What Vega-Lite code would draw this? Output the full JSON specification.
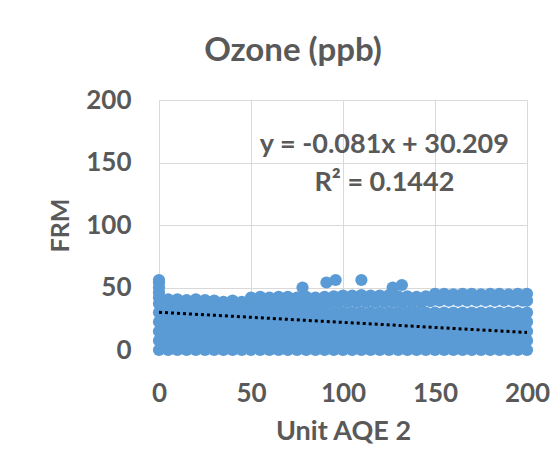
{
  "$schema": "https://vega.github.io/schema/vega-lite/v6.json",
  "width": 368,
  "height": 250,
  "autosize": {"type": "none"},
  "padding": {"left": 159, "top": 100, "right": 31, "bottom": 123},
  "background": "white",
  "title": {"text": "Ozone (ppb)", "font": "Lato", "fontSize": 33, "fontWeight": "bold", "color": "#595959", "anchor": "middle", "dx": -50, "offset": 19},
  "config": {
    "view": {"stroke": null},
    "axis": {
      "labelFont": "Lato", "labelFontWeight": "bold", "labelColor": "#595959",
      "titleFont": "Lato", "titleFontWeight": "bold", "titleColor": "#595959",
      "gridColor": "#d9d9d9", "gridWidth": 1, "domain": false, "ticks": false, "tickSize": 0, "labelFlush": false
    }
  },
  "datasets": {
    "points": [
      {"aqe2":0,"frm":0},{"aqe2":5,"frm":0},{"aqe2":10,"frm":0},{"aqe2":15,"frm":0},{"aqe2":20,"frm":0},{"aqe2":25,"frm":0},{"aqe2":30,"frm":0},{"aqe2":35,"frm":0},{"aqe2":40,"frm":0},{"aqe2":45,"frm":0},{"aqe2":50,"frm":0},{"aqe2":55,"frm":0},{"aqe2":60,"frm":0},{"aqe2":65,"frm":0},{"aqe2":70,"frm":0},{"aqe2":75,"frm":0},{"aqe2":80,"frm":0},{"aqe2":85,"frm":0},{"aqe2":90,"frm":0},{"aqe2":95,"frm":0},{"aqe2":100,"frm":0},{"aqe2":105,"frm":0},{"aqe2":110,"frm":0},{"aqe2":115,"frm":0},{"aqe2":120,"frm":0},{"aqe2":125,"frm":0},{"aqe2":130,"frm":0},{"aqe2":135,"frm":0},{"aqe2":140,"frm":0},{"aqe2":145,"frm":0},{"aqe2":150,"frm":0},{"aqe2":155,"frm":0},{"aqe2":160,"frm":0},{"aqe2":165,"frm":0},{"aqe2":170,"frm":0},{"aqe2":175,"frm":0},{"aqe2":180,"frm":0},{"aqe2":185,"frm":0},{"aqe2":190,"frm":0},{"aqe2":195,"frm":0},{"aqe2":200,"frm":0},
      {"aqe2":0,"frm":7.5},{"aqe2":2.5,"frm":7.5},{"aqe2":7.5,"frm":7.5},{"aqe2":12.5,"frm":7.5},{"aqe2":17.5,"frm":7.5},{"aqe2":22.5,"frm":7.5},{"aqe2":27.5,"frm":7.5},{"aqe2":32.5,"frm":7.5},{"aqe2":37.5,"frm":7.5},{"aqe2":42.5,"frm":7.5},{"aqe2":47.5,"frm":7.5},{"aqe2":52.5,"frm":7.5},{"aqe2":57.5,"frm":7.5},{"aqe2":62.5,"frm":7.5},{"aqe2":67.5,"frm":7.5},{"aqe2":72.5,"frm":7.5},{"aqe2":77.5,"frm":7.5},{"aqe2":82.5,"frm":7.5},{"aqe2":87.5,"frm":7.5},{"aqe2":92.5,"frm":7.5},{"aqe2":97.5,"frm":7.5},{"aqe2":102.5,"frm":7.5},{"aqe2":107.5,"frm":7.5},{"aqe2":112.5,"frm":7.5},{"aqe2":117.5,"frm":7.5},{"aqe2":122.5,"frm":7.5},{"aqe2":127.5,"frm":7.5},{"aqe2":132.5,"frm":7.5},{"aqe2":137.5,"frm":7.5},{"aqe2":142.5,"frm":7.5},{"aqe2":147.5,"frm":7.5},{"aqe2":152.5,"frm":7.5},{"aqe2":157.5,"frm":7.5},{"aqe2":162.5,"frm":7.5},{"aqe2":167.5,"frm":7.5},{"aqe2":172.5,"frm":7.5},{"aqe2":177.5,"frm":7.5},{"aqe2":182.5,"frm":7.5},{"aqe2":187.5,"frm":7.5},{"aqe2":192.5,"frm":7.5},{"aqe2":197.5,"frm":7.5},{"aqe2":200,"frm":7.5},
      {"aqe2":0,"frm":15},{"aqe2":5,"frm":15},{"aqe2":10,"frm":15},{"aqe2":15,"frm":15},{"aqe2":20,"frm":15},{"aqe2":25,"frm":15},{"aqe2":30,"frm":15},{"aqe2":35,"frm":15},{"aqe2":40,"frm":15},{"aqe2":45,"frm":15},{"aqe2":50,"frm":15},{"aqe2":55,"frm":15},{"aqe2":60,"frm":15},{"aqe2":65,"frm":15},{"aqe2":70,"frm":15},{"aqe2":75,"frm":15},{"aqe2":80,"frm":15},{"aqe2":85,"frm":15},{"aqe2":90,"frm":15},{"aqe2":95,"frm":15},{"aqe2":100,"frm":15},{"aqe2":105,"frm":15},{"aqe2":110,"frm":15},{"aqe2":115,"frm":15},{"aqe2":120,"frm":15},{"aqe2":125,"frm":15},{"aqe2":130,"frm":15},{"aqe2":135,"frm":15},{"aqe2":140,"frm":15},{"aqe2":145,"frm":15},{"aqe2":150,"frm":15},{"aqe2":155,"frm":15},{"aqe2":160,"frm":15},{"aqe2":165,"frm":15},{"aqe2":170,"frm":15},{"aqe2":175,"frm":15},{"aqe2":180,"frm":15},{"aqe2":185,"frm":15},{"aqe2":190,"frm":15},{"aqe2":195,"frm":15},{"aqe2":200,"frm":15},
      {"aqe2":0,"frm":22.5},{"aqe2":2.5,"frm":22.5},{"aqe2":7.5,"frm":22.5},{"aqe2":12.5,"frm":22.5},{"aqe2":17.5,"frm":22.5},{"aqe2":22.5,"frm":22.5},{"aqe2":27.5,"frm":22.5},{"aqe2":32.5,"frm":22.5},{"aqe2":37.5,"frm":22.5},{"aqe2":42.5,"frm":22.5},{"aqe2":47.5,"frm":22.5},{"aqe2":52.5,"frm":22.5},{"aqe2":57.5,"frm":22.5},{"aqe2":62.5,"frm":22.5},{"aqe2":67.5,"frm":22.5},{"aqe2":72.5,"frm":22.5},{"aqe2":77.5,"frm":22.5},{"aqe2":82.5,"frm":22.5},{"aqe2":87.5,"frm":22.5},{"aqe2":92.5,"frm":22.5},{"aqe2":97.5,"frm":22.5},{"aqe2":102.5,"frm":22.5},{"aqe2":107.5,"frm":22.5},{"aqe2":112.5,"frm":22.5},{"aqe2":117.5,"frm":22.5},{"aqe2":122.5,"frm":22.5},{"aqe2":127.5,"frm":22.5},{"aqe2":132.5,"frm":22.5},{"aqe2":137.5,"frm":22.5},{"aqe2":142.5,"frm":22.5},{"aqe2":147.5,"frm":22.5},{"aqe2":152.5,"frm":22.5},{"aqe2":157.5,"frm":22.5},{"aqe2":162.5,"frm":22.5},{"aqe2":167.5,"frm":22.5},{"aqe2":172.5,"frm":22.5},{"aqe2":177.5,"frm":22.5},{"aqe2":182.5,"frm":22.5},{"aqe2":187.5,"frm":22.5},{"aqe2":192.5,"frm":22.5},{"aqe2":197.5,"frm":22.5},{"aqe2":200,"frm":22.5},
      {"aqe2":0,"frm":30},{"aqe2":5,"frm":30},{"aqe2":10,"frm":30},{"aqe2":15,"frm":30},{"aqe2":20,"frm":30},{"aqe2":25,"frm":30},{"aqe2":30,"frm":30},{"aqe2":35,"frm":30},{"aqe2":40,"frm":30},{"aqe2":45,"frm":30},{"aqe2":50,"frm":30},{"aqe2":55,"frm":30},{"aqe2":60,"frm":30},{"aqe2":65,"frm":30},{"aqe2":70,"frm":30},{"aqe2":75,"frm":30},{"aqe2":80,"frm":30},{"aqe2":85,"frm":30},{"aqe2":90,"frm":30},{"aqe2":95,"frm":30},{"aqe2":100,"frm":30},{"aqe2":105,"frm":30},{"aqe2":110,"frm":30},{"aqe2":115,"frm":30},{"aqe2":120,"frm":30},{"aqe2":125,"frm":30},{"aqe2":130,"frm":30},{"aqe2":135,"frm":30},{"aqe2":140,"frm":30},{"aqe2":145,"frm":30},{"aqe2":150,"frm":30},{"aqe2":155,"frm":30},{"aqe2":160,"frm":30},{"aqe2":165,"frm":30},{"aqe2":170,"frm":30},{"aqe2":175,"frm":30},{"aqe2":180,"frm":30},{"aqe2":185,"frm":30},{"aqe2":190,"frm":30},{"aqe2":195,"frm":30},{"aqe2":200,"frm":30},
      {"aqe2":0,"frm":37},{"aqe2":2.5,"frm":37},{"aqe2":7.5,"frm":37},{"aqe2":12.5,"frm":37},{"aqe2":17.5,"frm":37},{"aqe2":22.5,"frm":37},{"aqe2":27.5,"frm":36.5},{"aqe2":32.5,"frm":36},{"aqe2":37.5,"frm":36},{"aqe2":42.5,"frm":36},{"aqe2":47.5,"frm":37.5},{"aqe2":52.5,"frm":37.5},{"aqe2":57.5,"frm":37.5},{"aqe2":62.5,"frm":37.5},{"aqe2":67.5,"frm":37.5},{"aqe2":72.5,"frm":37.5},{"aqe2":77.5,"frm":37.5},{"aqe2":82.5,"frm":37.5},{"aqe2":87.5,"frm":37.5},{"aqe2":92.5,"frm":38},{"aqe2":97.5,"frm":38},{"aqe2":102.5,"frm":38.5},{"aqe2":107.5,"frm":38.5},{"aqe2":112.5,"frm":38.5},{"aqe2":117.5,"frm":38.5},{"aqe2":122.5,"frm":38.5},{"aqe2":127.5,"frm":38.5},{"aqe2":132.5,"frm":38},{"aqe2":137.5,"frm":38},{"aqe2":142.5,"frm":38},{"aqe2":147.5,"frm":39},{"aqe2":152.5,"frm":39.5},{"aqe2":157.5,"frm":39.5},{"aqe2":162.5,"frm":39.5},{"aqe2":167.5,"frm":39.5},{"aqe2":172.5,"frm":39.5},{"aqe2":177.5,"frm":39.5},{"aqe2":182.5,"frm":39.5},{"aqe2":187.5,"frm":39.5},{"aqe2":192.5,"frm":39.5},{"aqe2":197.5,"frm":39.5},{"aqe2":200,"frm":39.5},
      {"aqe2":0,"frm":42},{"aqe2":5,"frm":40.5},{"aqe2":10,"frm":40.5},{"aqe2":15,"frm":40},{"aqe2":20,"frm":40.5},{"aqe2":25,"frm":40},{"aqe2":30,"frm":39.5},{"aqe2":35,"frm":38.5},{"aqe2":40,"frm":39.5},{"aqe2":45,"frm":38.5},{"aqe2":50,"frm":42},{"aqe2":55,"frm":42.5},{"aqe2":60,"frm":42},{"aqe2":65,"frm":42.5},{"aqe2":70,"frm":42.5},{"aqe2":75,"frm":42},{"aqe2":80,"frm":42.5},{"aqe2":85,"frm":42},{"aqe2":90,"frm":42.5},{"aqe2":95,"frm":43},{"aqe2":100,"frm":43.5},{"aqe2":105,"frm":43.5},{"aqe2":110,"frm":44},{"aqe2":115,"frm":43.5},{"aqe2":120,"frm":43.5},{"aqe2":125,"frm":44},{"aqe2":130,"frm":43},{"aqe2":135,"frm":43},{"aqe2":140,"frm":42.5},{"aqe2":145,"frm":43},{"aqe2":150,"frm":45},{"aqe2":155,"frm":45},{"aqe2":160,"frm":44.5},{"aqe2":165,"frm":45},{"aqe2":170,"frm":45},{"aqe2":175,"frm":44.5},{"aqe2":180,"frm":45},{"aqe2":185,"frm":45},{"aqe2":190,"frm":44.5},{"aqe2":195,"frm":45},{"aqe2":200,"frm":45},
      {"aqe2":0,"frm":46},{"aqe2":0,"frm":50},{"aqe2":0,"frm":54},{"aqe2":0,"frm":56},
      {"aqe2":78,"frm":50},{"aqe2":91,"frm":54},{"aqe2":96,"frm":56},{"aqe2":110,"frm":56},{"aqe2":127,"frm":50},{"aqe2":132,"frm":52}
    ],
    "trend": [{"aqe2": 0, "frm": 30.209}, {"aqe2": 200, "frm": 14.009}],
    "notes": [
      {"aqe2": 122.5, "frm": 158, "label": "y = -0.081x + 30.209"},
      {"aqe2": 122.5, "frm": 127, "label": "R² = 0.1442"}
    ]
  },
  "layer": [
    {
      "data": {"name": "points"},
      "mark": {"type": "circle", "size": 150, "color": "#5b9bd5", "opacity": 1},
      "encoding": {
        "x": {"field": "aqe2", "type": "quantitative", "scale": {"domain": [0, 200], "nice": false},
              "axis": {"title": "Unit AQE 2", "values": [0, 50, 100, 150, 200], "labelFontSize": 26, "titleFontSize": 27, "labelPadding": 30, "titlePadding": 12}},
        "y": {"field": "frm", "type": "quantitative", "scale": {"domain": [0, 200], "nice": false},
              "axis": {"title": "FRM", "values": [0, 50, 100, 150, 200], "labelFontSize": 26, "titleFontSize": 25, "labelPadding": 28, "titlePadding": 12}}
      }
    },
    {
      "data": {"name": "trend"},
      "mark": {"type": "line", "color": "#000000", "strokeWidth": 3, "strokeDash": [3, 3]},
      "encoding": {
        "x": {"field": "aqe2", "type": "quantitative"},
        "y": {"field": "frm", "type": "quantitative"}
      }
    },
    {
      "data": {"name": "notes"},
      "mark": {"type": "text", "font": "Lato", "fontWeight": "bold", "fontSize": 27, "color": "#595959", "align": "center", "baseline": "alphabetic"},
      "encoding": {
        "x": {"field": "aqe2", "type": "quantitative"},
        "y": {"field": "frm", "type": "quantitative"},
        "text": {"field": "label"}
      }
    }
  ]
}
